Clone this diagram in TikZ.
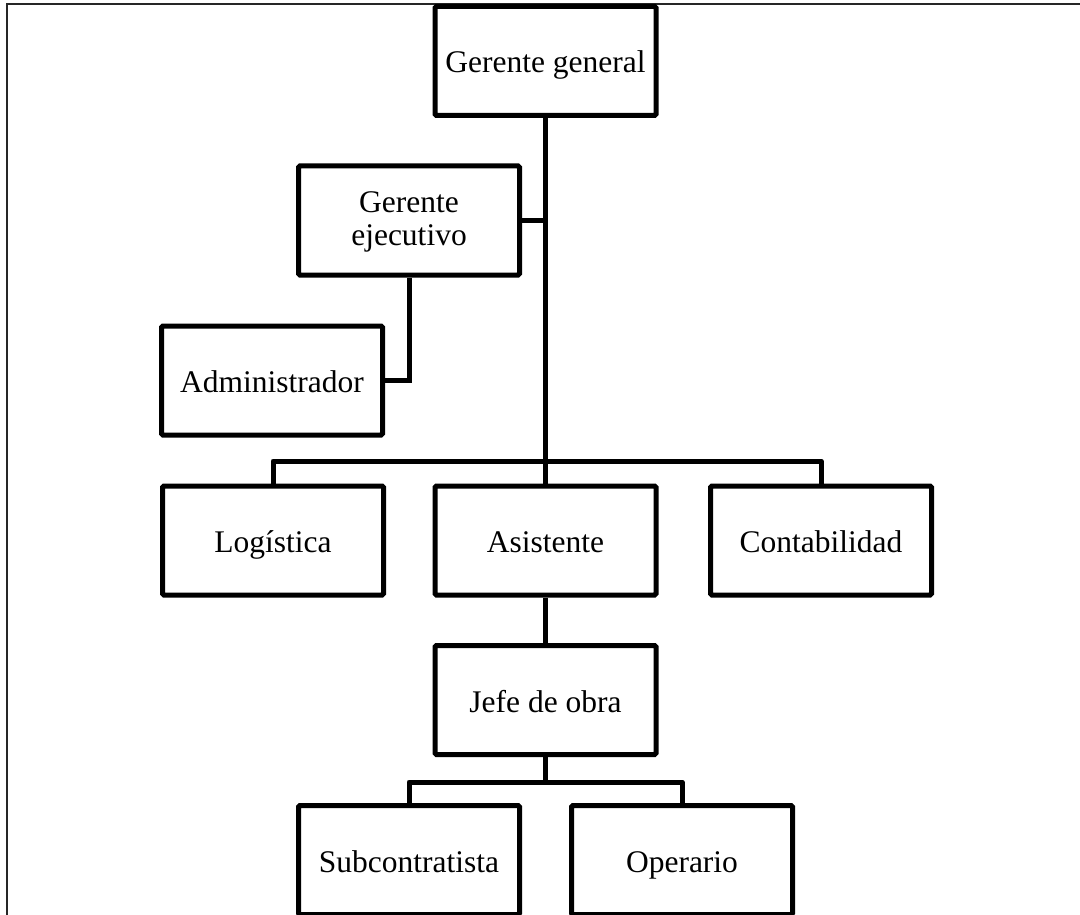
\documentclass[tikz,border=0pt]{standalone}
\usepackage{fontspec}
\setmainfont{Liberation Serif}
\begin{document}
\begin{tikzpicture}[x=1pt,y=-1pt,
  boxbase/.style={draw=black, line width=5pt, rounded corners=1.5pt, fill=white,
    minimum width=221pt, minimum height=109pt, inner sep=2pt, align=center,
    font=\fontsize{31.5}{34}\selectfont},
  box/.style={boxbase, text height=26pt, text depth=2pt},
  twoline/.style={boxbase, text height=53pt, text depth=2pt},
  link/.style={draw=black, line width=5pt},
  frameline/.style={draw=black!85, line width=2pt}]
\useasboundingbox (0,0) rectangle (1080,915);
\begin{scope}
\clip (0,0) rectangle (1080,915);
\draw[frameline] (7,915) -- (7,4) -- (1080,4);
\node[box] (gg) at (545.5,61) {Gerente general};
\node[twoline] (ge) at (409,220.5) {Gerente\\ejecutivo};
\node[box] (adm) at (272,380.5) {Administrador};
\node[box] (log) at (273,540.5) {Logística};
\node[box] (asi) at (545.5,540.5) {Asistente};
\node[box] (con) at (821,540.5) {Contabilidad};
\node[box] (jefe) at (545.5,700) {Jefe de obra};
\node[box] (sub) at (409,860) {Subcontratista};
\node[box] (ope) at (682,860) {Operario};
\coordinate (bar1) at (0,461);
\coordinate (bar2) at (0,782);
\draw[link] (gg.south) -- (asi.north);
\draw[link] (ge.east) -- (ge.east -| gg.south);
\draw[link] (ge.south) -- (ge.south |- adm.east) -- (adm.east);
\draw[link, line join=round] (log.north) -- (log.north |- bar1) -- (con.north |- bar1) -- (con.north);
\draw[link] (asi.south) -- (jefe.north);
\draw[link] (jefe.south) -- (jefe.south |- bar2);
\draw[link, line join=round] (sub.north) -- (sub.north |- bar2) -- (ope.north |- bar2) -- (ope.north);
\end{scope}
\end{tikzpicture}
\end{document}
